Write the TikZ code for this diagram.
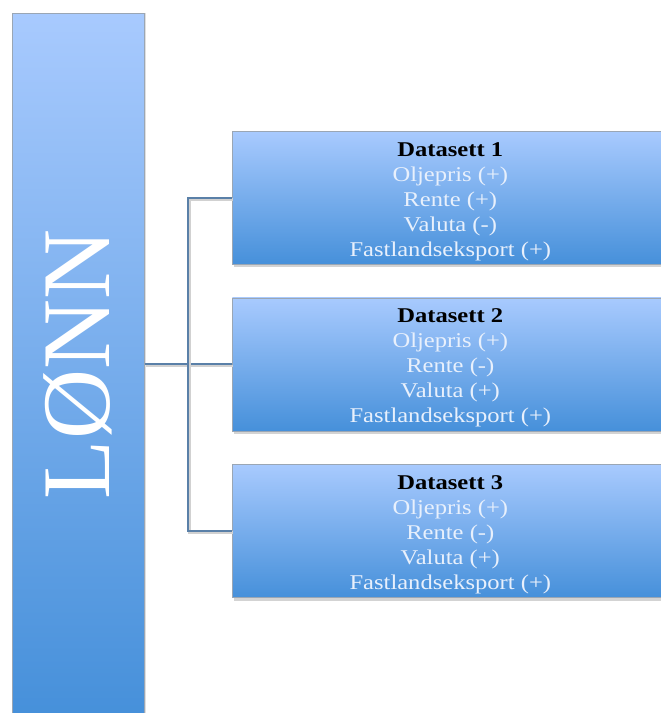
\documentclass[tikz,border=0pt]{standalone}
\usepackage{fontspec}
\setmainfont{Liberation Serif}
\newfontfamily\boxfont[FakeStretch=1.17]{Liberation Serif}
\usetikzlibrary{positioning,shadows,calc}

\definecolor{boxtop}{HTML}{A8CAFE}
\definecolor{boxbottom}{HTML}{4690DA}
\definecolor{boxedge}{HTML}{9AA6B4}
\definecolor{connblue}{HTML}{5A80A8}
\definecolor{paletext}{HTML}{E8F0FC}

\newcommand{\settitle}[1]{\rule{0pt}{21pt}\textcolor{black}{\bfseries Datasett #1}}

\begin{document}
\begin{tikzpicture}[x=1pt,y=-1pt,every node/.style={draw=boxedge, line width=0.6pt, top color=boxtop, bottom color=boxbottom, inner sep=0pt},lonnbox/.style={minimum width=132pt, minimum height=702pt, text=white, drop shadow={opacity=0.25, shadow xshift=2pt, shadow yshift=0pt}},databox/.style={anchor=north west, minimum width=436pt, minimum height=133pt, align=center, text=paletext, font=\boxfont\fontsize{21}{25}\selectfont, drop shadow={opacity=0.35, shadow xshift=1.5pt, shadow yshift=-3pt}},conn/.style={draw=connblue, line width=2pt, preaction={draw=black!18, line width=2.5pt, transform canvas={xshift=1pt, yshift=-1.5pt}}}]
\useasboundingbox (0,0) rectangle (661,713);
\clip (0,0) rectangle (661,713);
\node[lonnbox, anchor=north west] (lonn) at (12,13) {\rotatebox{90}{\fontsize{97}{97}\selectfont LØNN}};
\node[databox] (d1) at (232,131) {\settitle{1}\\Oljepris (+)\\Rente (+)\\Valuta (-)\\Fastlandseksport (+)};
\node[databox, below=33pt of d1.south west, anchor=north west] (d2) {\settitle{2}\\Oljepris (+)\\Rente (-)\\Valuta (+)\\Fastlandseksport (+)};
\node[databox, below=33pt of d2.south west, anchor=north west] (d3) {\settitle{3}\\Oljepris (+)\\Rente (-)\\Valuta (+)\\Fastlandseksport (+)};
% connectors
\coordinate (split) at ($(lonn.east |- d2.west)!0.5!(d2.west)$);
\draw[conn] (lonn.east |- d2.west) -- (d2.west);
\draw[conn] (d1.west) -| (split) |- (d3.west);
\end{tikzpicture}
\end{document}
